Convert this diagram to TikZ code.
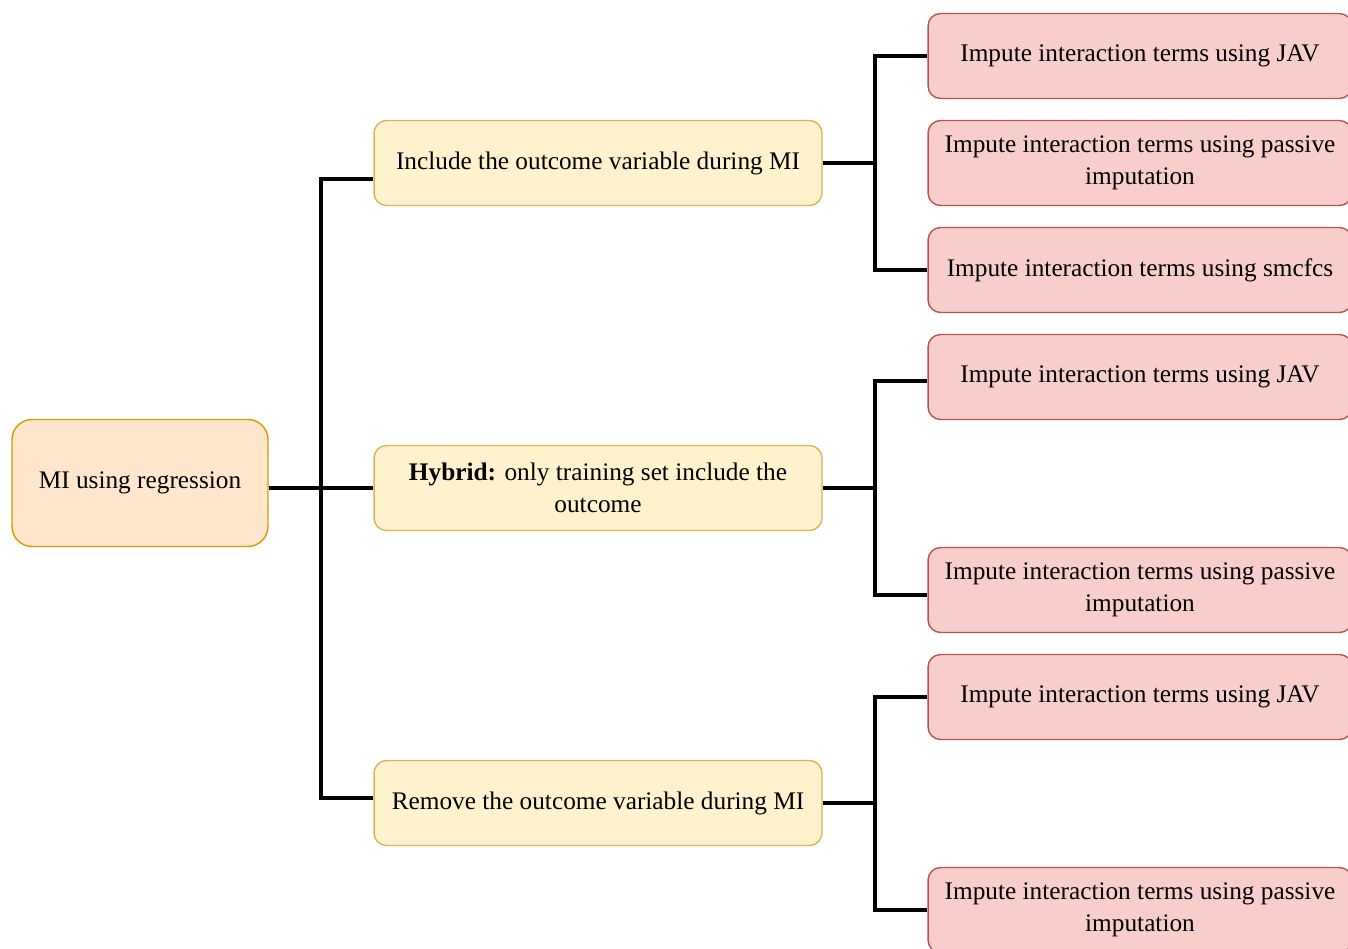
\documentclass[tikz,border=0pt]{standalone}
\usepackage{fontspec}
\setmainfont{Liberation Serif}
\usepackage{xcolor}
\usetikzlibrary{positioning}
\definecolor{rootfill}{HTML}{FFE6CC}
\definecolor{rootline}{HTML}{D79B00}
\definecolor{midfill}{HTML}{FFF2CC}
\definecolor{midline}{HTML}{D6B656}
\definecolor{leaffill}{HTML}{F8CECC}
\definecolor{leafline}{HTML}{B85450}
\begin{document}
\begin{tikzpicture}[x=0.02cm, y=-0.02cm,
every node/.style={font=\fontsize{14.4}{18}\selectfont},
rootbox/.style={draw=rootline, fill=rootfill, line width=0.8pt, rounded corners=0.4cm, minimum width=5.12cm, minimum height=2.54cm, align=center},
midbox/.style={draw=midline, fill=midfill, line width=0.8pt, rounded corners=0.25cm, minimum width=8.96cm, minimum height=1.7cm, align=center},
leafbox/.style={draw=leafline, fill=leaffill, line width=0.8pt, rounded corners=0.25cm, minimum width=8.48cm, minimum height=1.7cm, align=center},
link/.style={line width=2.2pt, black}
]
\useasboundingbox (0,0) rectangle (1348,948);
\node[rootbox] (root) at (140,483) {MI using regression};
\node[midbox] (incl) at (598,163) {Include the outcome variable during MI};
\node[midbox] (hybrid) at (598,488) {\textbf{Hybrid:} only training set include the\\outcome};
\node[midbox] (remove) at (598,803) {Remove the outcome variable during MI};
\node[leafbox] (inclJAV) at (1140,56) {Impute interaction terms using JAV};
\node[leafbox] (inclPass) at (1140,163) {Impute interaction terms using passive\\imputation};
\node[leafbox] (inclSmc) at (1140,270) {Impute interaction terms using smcfcs};
\node[leafbox] (hybJAV) at (1140,377) {Impute interaction terms using JAV};
\node[leafbox] (hybPass) at (1140,590) {Impute interaction terms using passive\\imputation};
\node[leafbox] (remJAV) at (1140,697) {Impute interaction terms using JAV};
\node[leafbox] (remPass) at (1140,910) {Impute interaction terms using passive\\imputation};
\coordinate (busA) at (321,488);
\coordinate (busB) at (875,488);
\draw[link] (root.east |- hybrid.west) -- (busA) |- ([yshift=-0.32cm]incl.west);
\draw[link] (root.east |- hybrid.west) -- (hybrid.west);
\draw[link] (root.east |- hybrid.west) -- (busA) |- ([yshift=0.1cm]remove.west);
\draw[link] (incl.east) -- (busB |- incl.east) |- (inclJAV.west);
\draw[link] (incl.east) -- (busB |- incl.east) |- (inclSmc.west);
\draw[link] (hybrid.east) -- (busB |- hybrid.east) |- ([yshift=-0.08cm]hybJAV.west);
\draw[link] (hybrid.east) -- (busB |- hybrid.east) |- ([yshift=-0.1cm]hybPass.west);
\draw[link] (remove.east) -- (busB |- remove.east) |- (remJAV.west);
\draw[link] (remove.east) -- (busB |- remove.east) |- (remPass.west);
\end{tikzpicture}
\end{document}
